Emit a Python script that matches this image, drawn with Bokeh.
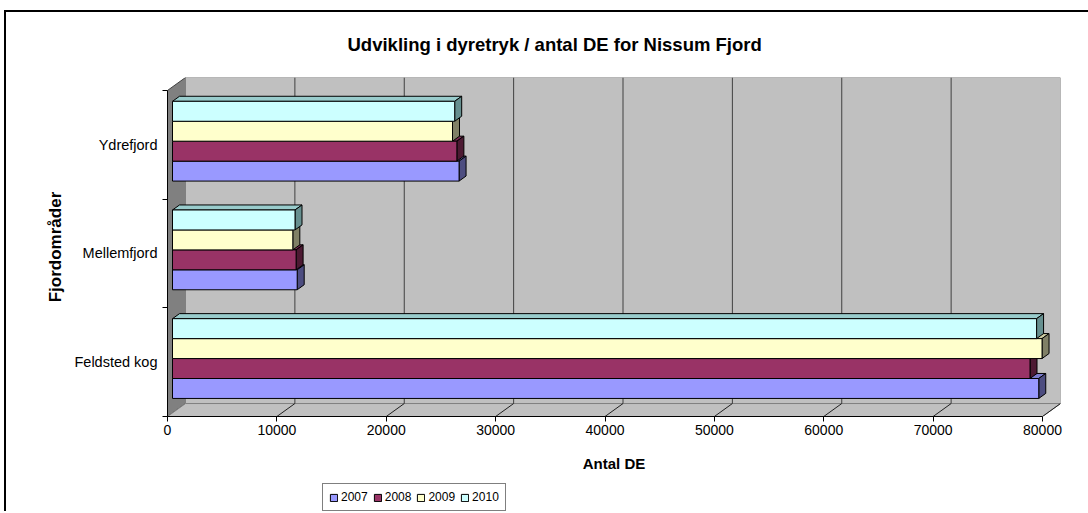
from bokeh.plotting import figure
from bokeh.layouts import column
from bokeh.models import Range1d, FixedTicker, NumeralTickFormatter, Legend, LegendItem
from bokeh.embed import file_html
from bokeh.resources import INLINE

# ---------------- data ----------------
CATEGORIES = ["Feldsted kog", "Mellemfjord", "Ydrefjord"]
YEARS = ["2007", "2008", "2009", "2010"]
V2007 = [79200, 11400, 26200]
V2008 = [78400, 11300, 26000]
V2009 = [79500, 11000, 25600]
V2010 = [79000, 11200, 25800]
XTICKS = [0, 10000, 20000, 30000, 40000, 50000, 60000, 70000, 80000]

TITLE = "Udvikling i dyretryk / antal DE for Nissum Fjord"
XLABEL = "Antal DE"
YLABEL = "Fjordområder"

# ---------------- styles ----------------
FRONT = ["#9999FF", "#993366", "#FFFFCC", "#CCFFFF"]
TOPC = ["#7A7ACC", "#7A2952", "#CCCCA3", "#99CCCC"]
SIDEC = ["#4D4D80", "#4D1A33", "#808066", "#668F8F"]
FONT = "Liberation Sans"

X_MAX = XTICKS[-1]
DX = X_MAX * 18 / 875.0      # depth offset of the 3-D box in value units
DY = 13 / 109.0              # depth offset in category units
N = len(CATEGORIES)
GROUP = 0.734
BAR_H = GROUP / len(YEARS)
FD, BD = 5 / 18.0, 12 / 18.0

p = figure(width=1082, height=468, output_backend="svg", toolbar_location=None,
           x_range=Range1d(0, X_MAX + DX), y_range=Range1d(-0.5, N - 0.5 + DY),
           min_border_left=161, min_border_right=28, min_border_top=64,
           min_border_bottom=64)
p.outline_line_color = None
p.grid.visible = False
p.background_fill_color = "white"
p.border_fill_color = "white"

# title
p.title.text = TITLE
p.title.text_font = FONT
p.title.text_font_size = "18.5px"
p.title.text_font_style = "bold"
p.title.text_color = "black"
p.title.align = "left"
p.title.offset = 180
p.title.vertical_align = "top"
p.title.standoff = 42

# walls and floor
p.patch([0, 0, DX, DX], [-0.5, N - 0.5, N - 0.5 + DY, -0.5 + DY],
        fill_color="#808080", line_color="#404040", line_width=1)
p.quad(left=[DX], right=[X_MAX + DX], bottom=[-0.5 + DY], top=[N - 0.5 + DY],
       fill_color="#C0C0C0", line_color="#808080", line_width=1)
p.patch([0, X_MAX, X_MAX + DX, DX], [-0.5, -0.5, -0.5 + DY, -0.5 + DY],
        fill_color="#C0C0C0", line_color="#808080", line_width=1)
gx = [t + DX for t in XTICKS[1:-1]]
p.segment(x0=gx, y0=[-0.5 + DY] * len(gx), x1=gx, y1=[N - 0.5 + DY] * len(gx),
          line_color="#404040", line_width=1)
fx = XTICKS[1:]
p.segment(x0=fx, y0=[-0.5] * len(fx), x1=[t + DX for t in fx], y1=[-0.5 + DY] * len(fx),
          line_color="#202020", line_width=1)

# bars
x0 = DX * FD
ddx = DX * (BD - FD)
ddy = DY * (BD - FD)
for i, (yr, vals) in enumerate(zip(YEARS, [V2007, V2008, V2009, V2010])):
    yc = [c - GROUP / 2 + (i + 0.5) * BAR_H + DY * FD for c in range(N)]
    rights = [x0 + v for v in vals]
    top_xs = [[x0, r, r + ddx, x0 + ddx] for r in rights]
    top_ys = [[y + BAR_H / 2, y + BAR_H / 2, y + BAR_H / 2 + ddy, y + BAR_H / 2 + ddy] for y in yc]
    side_xs = [[r, r, r + ddx, r + ddx] for r in rights]
    side_ys = [[y - BAR_H / 2, y + BAR_H / 2, y + BAR_H / 2 + ddy, y - BAR_H / 2 + ddy] for y in yc]
    p.patches(top_xs, top_ys, fill_color=TOPC[i], line_color="black", line_width=1)
    p.patches(side_xs, side_ys, fill_color=SIDEC[i], line_color="black", line_width=1)
    p.hbar(y=yc, left=x0, right=rights, height=BAR_H,
           fill_color=FRONT[i], line_color="black", line_width=1)

# axes
xa = p.xaxis[0]
xa.ticker = FixedTicker(ticks=XTICKS)
xa.formatter = NumeralTickFormatter(format="0")
xa.bounds = (0, X_MAX)
xa.major_tick_in = 0
xa.major_tick_out = 5
xa.minor_tick_out = 0
xa.major_label_standoff = 3
xa.major_label_text_font = FONT
xa.major_label_text_font_size = "14px"
xa.major_label_text_color = "black"
xa.axis_line_color = "black"
xa.major_tick_line_color = "black"
xa.axis_label = XLABEL
xa.axis_label_text_font = FONT
xa.axis_label_text_font_size = "15px"
xa.axis_label_text_font_style = "bold"
xa.axis_label_text_color = "black"
xa.axis_label_standoff = 17

ya = p.yaxis[0]
ya.ticker = FixedTicker(ticks=list(range(N)), minor_ticks=[c - 0.5 for c in range(N + 1)])
ya.major_label_overrides = {i: c for i, c in enumerate(CATEGORIES)}
ya.bounds = (-0.5, N - 0.5)
ya.major_tick_in = 0
ya.major_tick_out = 0
ya.minor_tick_in = 0
ya.minor_tick_out = 5
ya.minor_tick_line_color = "black"
ya.major_label_standoff = 5
ya.major_label_text_font = FONT
ya.major_label_text_font_size = "14.5px"
ya.major_label_text_color = "black"
ya.axis_line_color = "black"
ya.axis_label = YLABEL
ya.axis_label_text_font = FONT
ya.axis_label_text_font_size = "17px"
ya.axis_label_text_font_style = "bold"
ya.axis_label_text_color = "black"
ya.axis_label_standoff = 6

# legend strip (swatch renderers sit far outside the visible canvas)
lg = figure(width=1082, height=31, output_backend="svg", toolbar_location=None,
            x_range=Range1d(0, 1), y_range=Range1d(0, 1),
            x_axis_type=None, y_axis_type=None,
            min_border_left=0, min_border_right=0, min_border_top=0, min_border_bottom=0)
lg.outline_line_color = None
lg.grid.visible = False
items = []
for i, yr in enumerate(YEARS):
    r = lg.hbar(y=[-50], left=[-50], right=[-49], height=0.1,
                fill_color=FRONT[i], line_color="black", line_width=1)
    items.append(LegendItem(label=yr, renderers=[r]))
legend = Legend(items=items, orientation="horizontal", location=(155, 0),
                border_line_color="black", border_line_width=1,
                background_fill_color="white", background_fill_alpha=1,
                label_text_font=FONT, label_text_font_size="12px",
                label_text_color="black",
                glyph_width=9, glyph_height=9, label_standoff=3, spacing=5,
                padding=6, margin=0, label_height=14)
lg.add_layout(legend, "center")

layout = column(p, lg, spacing=0,
                styles={"border-top": "2px solid black", "border-left": "2px solid black",
                        "margin-left": "4px", "margin-top": "10px"})

open("out.html", "w").write(file_html(layout, INLINE))
